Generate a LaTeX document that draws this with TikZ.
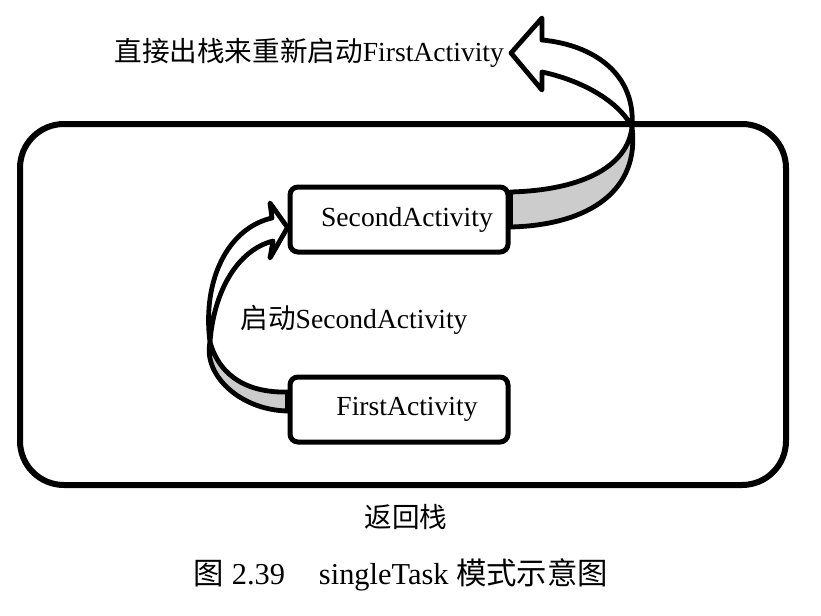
\documentclass[tikz,border=0pt]{standalone}
\usepackage{fontspec}
\setmainfont{Liberation Serif}
\newfontfamily\cjk{Noto Sans CJK SC}
\usepackage{xcolor}

\begin{document}
\begin{tikzpicture}[x=0.5pt, y=-0.5pt,
  font=\fontsize{13.8}{16}\selectfont,
  actbox/.style={rectangle, rounded corners=4pt, draw, line width=2.5pt, fill=white, minimum width=109pt, minimum height=32.5pt},
  stackbox/.style={rectangle, rounded corners=22pt, draw, line width=3pt, minimum width=383pt, minimum height=180.5pt},
  ribbon/.style={draw, line width=2.4pt, line join=round, fill=white},
  ribbonback/.style={ribbon, fill=gray!40}]
\useasboundingbox (0,0) rectangle (821,616);
% Define the nodes
\node[stackbox] at (403,304.5) (stack) {};
\node[actbox] at (399,219.5) (second) {\hspace*{8pt}SecondActivity};
\node[actbox] at (399,409.5) (first) {\hspace*{8pt}FirstActivity};
\node at (354,320) (launch) {{\cjk 启动}SecondActivity};
\node[anchor=east] at (511,53) (popback) {{\cjk 直接出栈来重新启动}FirstActivity};
\node at (406,517) (stacklabel) {\cjk 返回栈};
\node at (401,575) (caption) {\fontsize{15.2}{18}\selectfont{\cjk 图} 2.39\hspace{17pt}singleTask {\cjk 模式示意图}};
% Draw the paths
% first -> second
\draw[ribbonback] (210,342) .. controls (220,378) and (250,393) .. ([yshift=8.75pt]first.west)
  -- ([yshift=-0.75pt]first.west) .. controls (240,410) and (203,375) .. (210,342) -- cycle;
\draw[ribbon] (210,342) .. controls (202,280) and (228,228) .. (272,218) -- (270,203)
  -- ([yshift=-4pt]second.west) -- (270,258) -- (273,241) .. controls (238,250) and (214,290) .. (210,342) -- cycle;
% second -> out of the stack
\draw[ribbonback] (632,127) .. controls (628,165) and (585,190) .. ([yshift=13.75pt]second.east)
  -- ([yshift=-3.75pt]second.east) .. controls (590,225) and (640,190) .. (632,127) -- cycle;
\draw[ribbon] (632,127) .. controls (636,75) and (595,45) .. (542,40) -- (542,18)
  -- (popback.east) -- (542,90) -- (542,72) .. controls (580,80) and (618,100) .. (632,127) -- cycle;
\end{tikzpicture}
\end{document}
